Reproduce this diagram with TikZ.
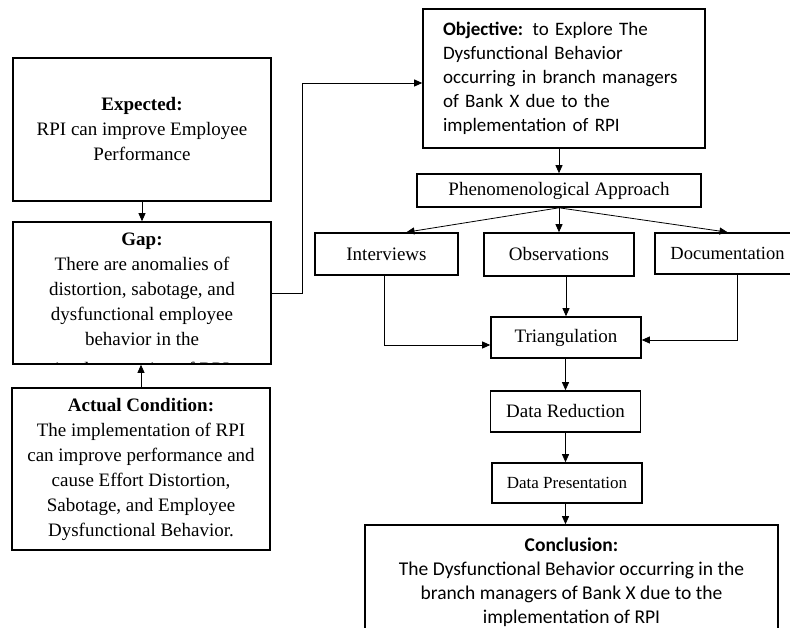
\documentclass[tikz,border=0pt]{standalone}
\usepackage{fontspec}
\setmainfont{Liberation Serif}
\newfontfamily\calibri{Carlito}
\usetikzlibrary{arrows.meta}
\begin{document}
\begin{tikzpicture}[x=1pt,y=-1pt,
  box/.style={draw,line width=1.6pt,inner sep=0pt,align=center,font=\fontsize{19}{25}\selectfont},
  stepbox/.style={box,minimum width=150pt,minimum height=41pt},
  sansbox/.style={box,font=\calibri\fontsize{19.5}{24}\selectfont},
  arr/.style={line width=0.8pt,-{Triangle[length=8pt,width=7pt]}}]
\clip (0,0) rectangle (790,628);
\fill[white] (0,0) rectangle (790,628);
% left column
\node[box,minimum width=258pt,minimum height=143pt] (expected) at (142,129.5) {\textbf{Expected:}\\RPI can improve Employee\\Performance};
\node[box,minimum width=258pt,minimum height=142pt] (gap) at (142,293) {};
\begin{scope}
\clip ([shift={(1pt,-1pt)}]gap.north west) rectangle ([shift={(-1pt,2pt)}]gap.south east);
\node[font=\fontsize{19}{25}\selectfont,align=center,inner sep=0pt] (gaptext) at (142,306) {\textbf{Gap:}\\There are anomalies of\\distortion, sabotage, and\\dysfunctional employee\\behavior in the\\[5pt]implementation of RPI};
\end{scope}
\node[box,minimum width=258pt,minimum height=162pt] (actual) at (141,469) {\textbf{Actual Condition:}\\The implementation of RPI\\can improve performance and\\cause Effort Distortion,\\Sabotage, and Employee\\Dysfunctional Behavior.};
% right column
\node[sansbox,font=\calibri\fontsize{19}{24}\selectfont,minimum height=139pt,text width=242pt,inner xsep=20pt,align=left] (objective) at (564,78.5) {\textbf{Objective:} to Explore The\\Dysfunctional Behavior\\occurring in branch managers\\of Bank X due to the\\implementation of RPI};
\node[box,minimum width=284pt,minimum height=33pt] (phen) at (559,190.5) {Phenomenological Approach};
\node[stepbox,minimum width=143pt,minimum height=42pt] (interviews) at (386.5,254) {Interviews};
\node[stepbox,minimum height=43pt] (observations) at (559,254.5) {Observations};
\node[stepbox,minimum width=145pt,font=\fontsize{18.5}{22}\selectfont] (documentation) at (727.5,253.5) {Documentation};
\node[stepbox] (triangulation) at (566,337.5) {Triangulation};
\node[stepbox] (reduction) at (565.5,411.5) {Data Reduction};
\node[stepbox,minimum height=40pt,font=\fontsize{17}{22}\selectfont] (presentation) at (567,483) {Data Presentation};
\node[sansbox,minimum width=413pt,minimum height=115pt] (conclusion) at (571.5,582.5) {\textbf{Conclusion:}\\The Dysfunctional Behavior occurring in the\\branch managers of Bank X due to the\\implementation of RPI};
% connectors
\draw[arr] (expected) -- (gap);
\draw[arr] (actual.north) -- (actual.north |- gap.south);
\draw[arr] (gap.east) -- ++(31,0) |- ([yshift=-4.5pt]objective.west);
\draw[arr] (objective.south -| phen.north) -- (phen.north);
\draw[arr] (phen.south) -- ([xshift=20pt]interviews.north);
\draw[arr] (phen.south) -- (observations.north);
\draw[arr] (phen.south) -- (documentation.north);
\draw[arr] ([xshift=-2pt]interviews.south) |- ([yshift=-7.5pt]triangulation.west);
\draw[arr] ([xshift=10pt]documentation.south) |- ([yshift=-2.5pt]triangulation.east);
\draw[arr] (triangulation.north |- observations.south) -- (triangulation.north);
\draw[arr] (triangulation.south -| reduction.north) -- (reduction.north);
\draw[arr] (reduction.south) -- (reduction.south |- presentation.north);
\draw[arr] (presentation.south -| reduction.south) -- (reduction.south |- conclusion.north);
\end{tikzpicture}
\end{document}
